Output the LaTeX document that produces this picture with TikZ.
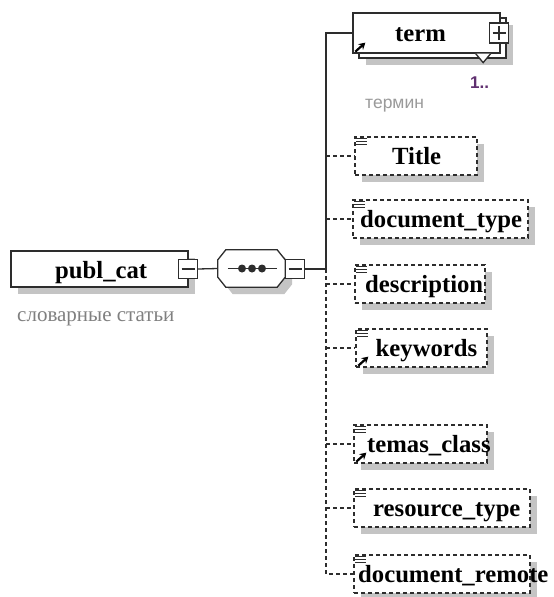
\documentclass[tikz,border=0pt]{standalone}
\usepackage{fontspec}
\setmainfont{Liberation Serif}
\newfontfamily\notesans{Liberation Sans}
\usetikzlibrary{shadows, arrows.meta, positioning}
\definecolor{edgedark}{RGB}{45,45,45}
\definecolor{shadowgray}{RGB}{196,196,196}
\definecolor{notegray}{RGB}{128,128,128}
\definecolor{occurpurple}{RGB}{96,48,112}

\tikzset{
    elembox/.style={draw=edgedark, line width=1.3pt, fill=white, inner sep=0pt, minimum height=38pt},
    shadowed/.style={drop shadow={shadow xshift=7pt, shadow yshift=-7pt, fill=shadowgray, opacity=1}},
    optbox/.style={elembox, shadowed, dash pattern=on 4pt off 3pt},
    elemtext/.style={inner sep=0pt, anchor=base west, font=\fontsize{24.7}{26}\selectfont\bfseries},
    toggle/.style={draw=edgedark, line width=1.3pt, fill=white, minimum size=19pt, inner sep=0pt},
    minustoggle/.style={toggle, path picture={
        \draw[edgedark, line width=1.3pt] ([xshift=3pt]path picture bounding box.west)
            -- ([xshift=-3pt]path picture bounding box.east);}},
    plustoggle/.style={toggle, path picture={
        \draw[edgedark, line width=1.3pt] ([xshift=3pt]path picture bounding box.west)
            -- ([xshift=-3pt]path picture bounding box.east);
        \draw[edgedark, line width=1.3pt] ([yshift=-3pt]path picture bounding box.north)
            -- ([yshift=3pt]path picture bounding box.south);}},
    conn/.style={draw=edgedark, line width=1.3pt},
    optconn/.style={conn, dash pattern=on 4pt off 3pt},
    refarrow/.style={-{Stealth[length=6.5pt, width=7.5pt]}, line width=2.2pt, black},
    notetext/.style={inner sep=0pt, anchor=base west, text=notegray},
}

\begin{document}
\begin{tikzpicture}[x=1pt, y=-1pt]
\useasboundingbox[fill=white] (0,0) rectangle (554,597);

% root element and its sequence
\node[elembox, shadowed, minimum width=177pt, minimum height=36pt] (publ) at (99.5,269) {};
\node[elemtext] (publtext) at (55,278) {publ\_cat};
\node[minustoggle] (publminus) at (188,269) {};
\node[notetext, font=\fontsize{21}{23}\selectfont] (publnote) at (17,321) {словарные статьи};

\node[minimum width=67pt, minimum height=37pt, inner sep=0pt] (seq) at (251.5,268.5) {};
\draw[conn, fill=white, shadowed]
    ([xshift=8pt]seq.north west) -- ([xshift=-8pt]seq.north east)
    -- ([yshift=-10pt]seq.north east) -- ([yshift=10pt]seq.south east)
    -- ([xshift=-8pt]seq.south east) -- ([xshift=8pt]seq.south west)
    -- ([yshift=10pt]seq.south west) -- ([yshift=-10pt]seq.north west) -- cycle;
\draw[conn] ([xshift=10pt]seq.west) -- ([xshift=-8pt]seq.east);
\foreach \dx in {-9.5,0.5,10.5}
    \fill[edgedark] ([xshift=\dx pt]seq.center) circle (4pt);
\node[minustoggle] (seqminus) at (295,269) {};

\draw[conn] (publminus.east) -- (seq.west);
\coordinate (spine) at (326,269);
\draw[conn] (seqminus.east) -- (spine);

% term, repeated
\node[elembox, shadowed, minimum width=147pt, minimum height=40pt] (termback) at (432.5,38) {};
\node[elembox, minimum width=147pt, minimum height=40pt] (term) at (426.5,33) {};
\node[elemtext] (termtext) at (395,41) {term};
\node[plustoggle, minimum height=20pt] (termplus) at (499,33) {};
\draw[conn, fill=white] ([xshift=-25pt]term.south east) -- ++(7.5pt,-9pt) -- ([xshift=-10pt]term.south east);
\node[notetext, font=\notesans\bfseries\fontsize{17}{19}\selectfont, text=occurpurple] (termocc) at (470,88) {1..};
\node[notetext, font=\notesans\fontsize{17.5}{19}\selectfont, text=notegray!80] (termnote) at (365,108) {термин};

% optional children
\node[optbox, minimum width=122pt] (title) at (416,156) {};
\node[elemtext] (titletext) at (392,164) {Title};
\node[optbox, minimum width=175pt] (doctype) at (440.5,219) {};
\node[elemtext] (doctypetext) at (360,227) {document\_type};
\node[optbox, minimum width=130pt] (descr) at (420,284) {};
\node[elemtext] (descrtext) at (365,292) {description};
\node[optbox, minimum width=131pt] (keywords) at (421.5,348) {};
\node[elemtext] (keywordstext) at (375.5,356) {keywords};
\node[optbox, minimum width=133pt] (temas) at (420.5,444) {};
\node[elemtext] (temastext) at (367,452) {temas\_class};
\node[optbox, minimum width=176pt] (restype) at (442,508) {};
\node[elemtext] (restypetext) at (373,516) {resource\_type};
\node[optbox, minimum width=176pt] (docremote) at (442,574) {};
\node[elemtext] (docremotetext) at (358,582) {document\_remote};

% list marks and reference arrows
\foreach \n in {title, doctype, descr, keywords, temas, restype, docremote}
    \foreach \k in {0,1,2}
        \draw[edgedark, line width=1.4pt] ([xshift=2pt, yshift={-2pt-\k*3pt}]\n.north west) -- ++(11pt,0);
\foreach \n in {term, keywords, temas}
    \draw[refarrow] ([xshift=3pt, yshift=2pt]\n.south west) -- ++(10pt,9pt);

% connectors
\draw[conn] (term.west) -| (spine);
\draw[optconn] (spine |- title.west) -- (title.west);
\draw[optconn] (spine |- doctype.west) -- (doctype.west);
\draw[optconn] (spine |- descr.west) -- (descr.west);
\draw[optconn] (spine |- keywords.west) -- (keywords.west);
\draw[optconn] (spine |- temas.west) -- (temas.west);
\draw[optconn] (spine |- restype.west) -- (restype.west);
\draw[optconn] (spine) |- (docremote.west);
\end{tikzpicture}
\end{document}
